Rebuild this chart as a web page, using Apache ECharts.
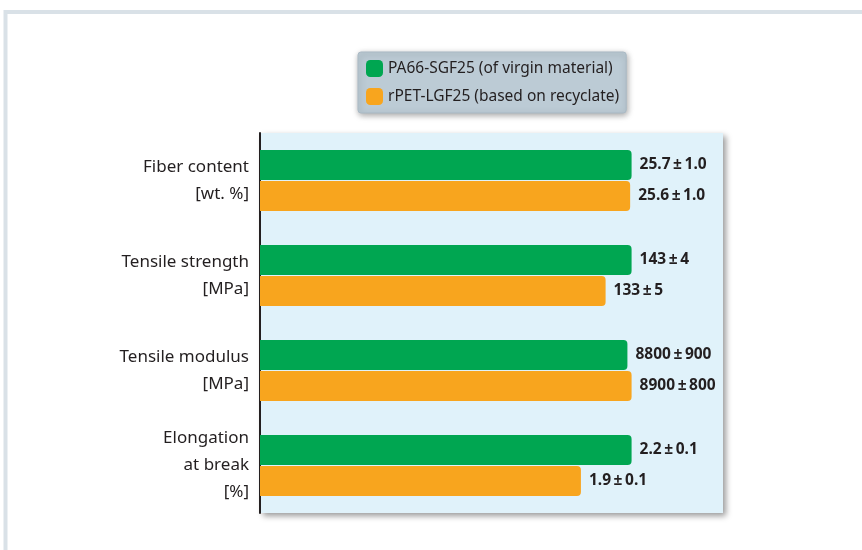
<!DOCTYPE html>
<html>
<head>
<meta charset="utf-8">
<script src="https://cdn.jsdelivr.net/npm/echarts@6/dist/echarts.min.js"></script>
<style>
  html, body { margin: 0; padding: 0; background: #ffffff; }
  #chart { width: 862px; height: 550px; }
</style>
</head>
<body>
<div id="chart"></div>
<script>
// Property names (with units), top to bottom
const categories = ['Fiber content\n[wt. %]', 'Tensile strength\n[MPa]', 'Tensile modulus\n[MPa]', 'Elongation\nat break\n[%]'];
const seriesNames = ['PA66-SGF25 (of virgin material)', 'rPET-LGF25 (based on recyclate)'];
// Measured mean values and standard deviations
const virginValues = [25.7, 143, 8800, 2.2];
const virginErrors = [1.0, 4, 900, 0.1];
const recyclateValues = [25.6, 133, 8900, 1.9];
const recyclateErrors = [1.0, 5, 800, 0.1];
// Decimal places used for each property
const decimals = [1, 0, 0, 1];

// Bars are shown relative to the larger value of each property (= 100)
const groupMax = virginValues.map((v, i) => Math.max(v, recyclateValues[i]));
const rel = (arr) => arr.map((v, i) => v / groupMax[i] * 100);
const fmt = (v, e, i) => v.toFixed(decimals[i]) + '\u2009±\u2009' + e.toFixed(decimals[i]);

const chart = echarts.init(document.getElementById('chart'), null, { renderer: 'canvas' });

const labelStyle = {
  show: true,
  position: 'right',
  distance: 8,
  color: '#231f20',
  fontFamily: 'Noto Sans',
  fontWeight: 'bold',
  fontSize: 15.5
};

chart.setOption({
  animation: false,
  graphic: [{
    type: 'rect',
    shape: { x: 5.5, y: 12, width: 900, height: 600 },
    style: { fill: 'none', stroke: '#d9e1e7', lineWidth: 4 },
    z: 0
  }],
  legend: {
    orient: 'vertical',
    left: 358,
    top: 52,
    padding: [8, 7, 8, 8],
    itemWidth: 17,
    itemHeight: 17,
    itemGap: 11,
    backgroundColor: '#bccbd5',
    borderColor: '#a9b9c4',
    borderWidth: 1,
    borderRadius: 3,
    shadowBlur: 6,
    shadowColor: 'rgba(0,0,0,0.35)',
    shadowOffsetX: 1,
    shadowOffsetY: 2,
    itemStyle: { borderRadius: 2 },
    textStyle: { color: '#231f20', fontFamily: 'Noto Sans', fontSize: 15.5, padding: [0, 0, 0, 0] },
    data: seriesNames
  },
  grid: {
    show: true,
    left: 260,
    top: 133,
    right: 139,
    bottom: 37,
    backgroundColor: '#e0f2fa',
    borderWidth: 0,
    shadowBlur: 6,
    shadowColor: 'rgba(0,0,0,0.4)',
    shadowOffsetX: 3,
    shadowOffsetY: 3
  },
  xAxis: {
    type: 'value',
    min: 0,
    max: 124.6,
    show: false
  },
  yAxis: {
    type: 'category',
    inverse: true,
    data: categories,
    axisLine: { show: true, lineStyle: { color: '#231f20', width: 2 } },
    axisTick: { show: false },
    axisLabel: {
      margin: 11,
      color: '#231f20',
      fontFamily: 'Noto Sans',
      fontSize: 17,
      lineHeight: 27,
      align: 'right'
    },
    splitLine: { show: false }
  },
  series: [
    {
      name: seriesNames[0],
      type: 'bar',
      data: rel(virginValues),
      barWidth: 30,
      barGap: '3%',
      itemStyle: { color: '#00a651', borderRadius: [0, 4, 4, 0] },
      label: Object.assign({}, labelStyle, {
        formatter: (p) => fmt(virginValues[p.dataIndex], virginErrors[p.dataIndex], p.dataIndex)
      })
    },
    {
      name: seriesNames[1],
      type: 'bar',
      data: rel(recyclateValues),
      barWidth: 30,
      itemStyle: { color: '#f8a51e', borderRadius: [0, 4, 4, 0] },
      label: Object.assign({}, labelStyle, {
        formatter: (p) => fmt(recyclateValues[p.dataIndex], recyclateErrors[p.dataIndex], p.dataIndex)
      })
    }
  ]
});
</script>
</body>
</html>
